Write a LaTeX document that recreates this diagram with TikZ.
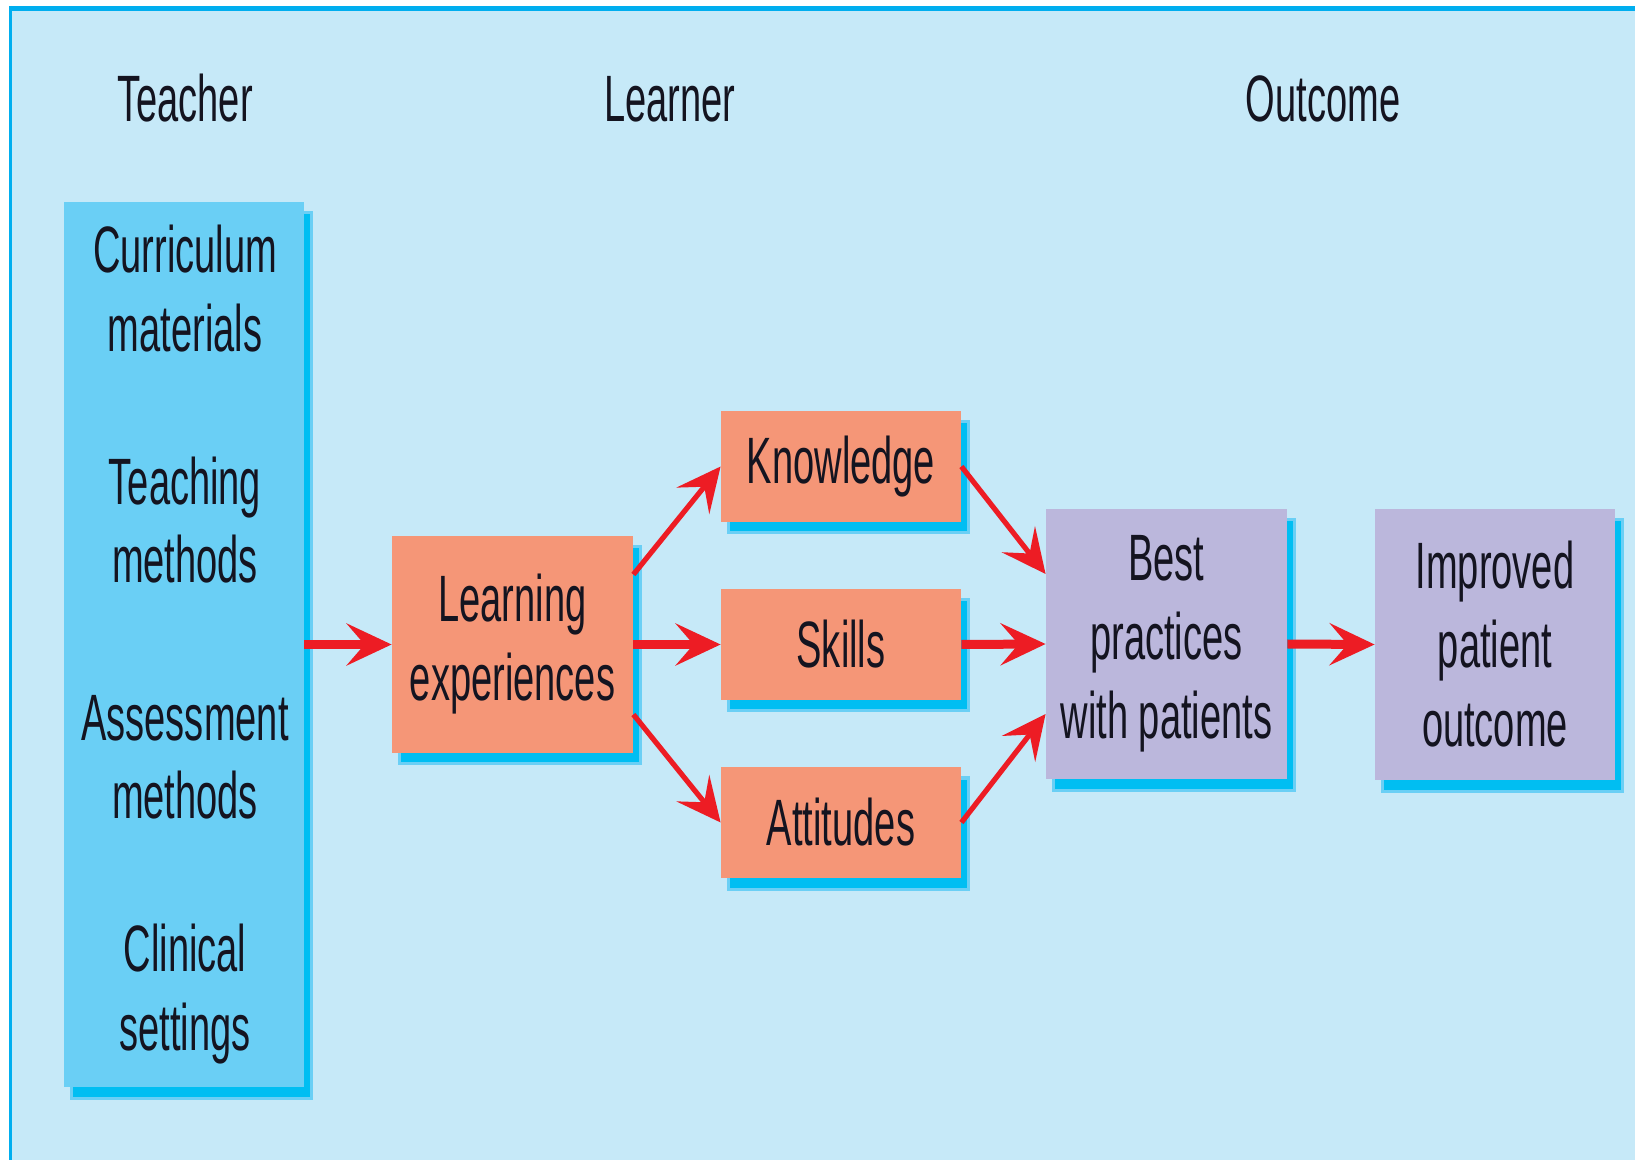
\documentclass[tikz,border=0pt]{standalone}
\usepackage{fontspec}
\setmainfont{Liberation Sans}[FakeStretch=0.58]
\usetikzlibrary{arrows.meta,shadows}
\definecolor{bgc}{HTML}{C6E9F8}
\definecolor{bordc}{HTML}{00AEEF}
\definecolor{tealfill}{HTML}{6ACFF5}
\definecolor{shdark}{HTML}{00BEF2}
\definecolor{shlight}{HTML}{6ACFF5}
\definecolor{orangefill}{HTML}{F59677}
\definecolor{purplefill}{HTML}{BBB7DC}
\definecolor{arrred}{HTML}{ED1C24}
\definecolor{txt}{HTML}{141420}
\begin{document}
\begin{tikzpicture}[x=0.5pt,y=-0.5pt,
  lbl/.style={font=\fontsize{32.8}{39.5}\selectfont, text=txt, align=center, inner sep=0pt},
  box/.style={lbl, draw=none, drop shadow={shadow xshift=3.5pt, shadow yshift=-5.5pt, fill=shdark, draw=shlight, line width=1.5pt, opacity=1}},
  arr/.style={draw=arrred, line width=4.5pt, -{Stealth[length=22.5pt,width=21pt,inset=9pt]}},
  darr/.style={draw=arrred, line width=2.6pt, -{Stealth[length=22pt,width=21pt,inset=9pt]}}
]
\useasboundingbox (0,0) rectangle (1635,1160);
\fill[bgc] (9,6) rectangle (1635,1160);
\draw[bordc, line width=2.5pt] (9,8.5) -- (1635,8.5);
\draw[bordc, line width=1.5pt] (10.5,6) -- (10.5,1160);

% headings
\node[lbl, anchor=base] (hT) at (185,122) {Teacher};
\node[lbl, anchor=base] (hL) at (670,122) {Learner};
\node[lbl, anchor=base] (hO) at (1323,122) {Outcome};

% teacher column
\node[box, fill=tealfill, minimum width=120pt, minimum height=442.5pt] (teacher) at (184,644.5) {};
\node[lbl, anchor=base] (g1) at (185,352) {Curriculum\\materials};
\node[lbl, anchor=base] (g2) at (185,583) {Teaching\\methods};
\node[lbl, anchor=base] (g3) at (185,819) {Assessment\\methods};
\node[lbl, anchor=base] (g4) at (185,1050) {Clinical\\settings};

% learner boxes
\node[box, fill=orangefill, minimum width=120.5pt, minimum height=108.5pt] (learn) at (512.5,644.5) {Learning\\experiences};
\node[box, fill=orangefill, minimum width=120pt, minimum height=55.5pt] (know) at (841,466.5) {Knowledge};
\node[box, fill=orangefill, minimum width=120pt, minimum height=55.5pt] (skills) at (841,644.5) {Skills};
\node[box, fill=orangefill, minimum width=120pt, minimum height=55.5pt] (att) at (841,822.5) {Attitudes};

% outcome boxes
\node[box, fill=purplefill, minimum width=120.5pt, minimum height=135pt] (best) at (1166.5,644) {Best\\practices\\with patients};
\node[box, fill=purplefill, minimum width=120pt, minimum height=135.5pt] (impr) at (1495,644.5) {Improved\\patient\\outcome};

% connectors
\draw[arr] (teacher.east) -- (learn.west);
\draw[arr] (learn.east) -- (skills.west);
\draw[darr] ([yshift=35pt]learn.east) -- (know.west);
\draw[darr] ([yshift=-35pt]learn.east) -- (att.west);
\draw[darr] (know.east) -- ([yshift=35pt]best.west);
\draw[arr] (skills.east) -- (best.west);
\draw[darr] (att.east) -- ([yshift=-35pt]best.west);
\draw[arr] (best.east) -- (impr.west);
\end{tikzpicture}
\end{document}
